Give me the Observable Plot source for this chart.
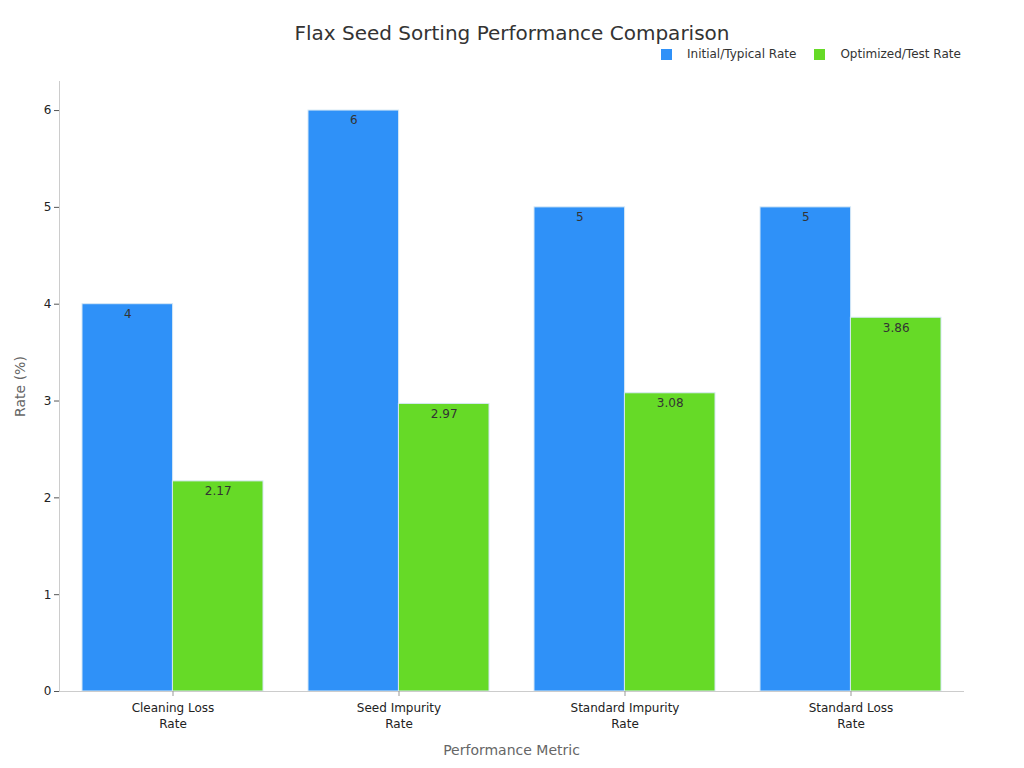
<!DOCTYPE html>
<html>
<head>
<meta charset="utf-8">
<script src="https://cdn.jsdelivr.net/npm/d3@7"></script>
<script src="https://cdn.jsdelivr.net/npm/@observablehq/plot@0.6"></script>
<style>
  html, body { margin: 0; padding: 0; background: #fff; }
  body { width: 1024px; height: 768px; position: relative; overflow: hidden; font-family: "DejaVu Sans", sans-serif; }
  #title { position: absolute; top: 21px; left: 0; width: 1024px; text-align: center; font-size: 20px; color: #333; }
  #legend { position: absolute; top: 47px; left: 661px; font-size: 12px; color: #333; display: flex; align-items: center; }
  .sw { display: inline-block; width: 11px; height: 11px; margin-right: 15px; }
  .item { display: flex; align-items: center; margin-right: 18px; }
  #chart { position: absolute; top: 0; left: 0; }
</style>
</head>
<body>
<div id="chart"></div>
<div id="title">Flax Seed Sorting Performance Comparison</div>
<div id="legend"></div>
<script>
const categories = ["Cleaning Loss Rate", "Seed Impurity Rate", "Standard Impurity Rate", "Standard Loss Rate"];
const tickLabels = ["Cleaning Loss\nRate", "Seed Impurity\nRate", "Standard Impurity\nRate", "Standard Loss\nRate"];
const series = ["Initial/Typical Rate", "Optimized/Test Rate"];
const colors = ["#2f91f8", "#66da27"];
const initialValues = [4, 6, 5, 5];
const optimizedValues = [2.17, 2.97, 3.08, 3.86];
const yTicks = [0, 1, 2, 3, 4, 5, 6];

const initialData = categories.map((c, i) => ({category: c, series: series[0], value: initialValues[i]}));
const optimizedData = categories.map((c, i) => ({category: c, series: series[1], value: optimizedValues[i]}));

const legend = document.getElementById("legend");
series.forEach((s, i) => {
  const it = document.createElement("div");
  it.className = "item";
  it.innerHTML = `<span class="sw" style="background:${colors[i]}"></span><span>${s}</span>`;
  legend.appendChild(it);
});

const W = 1024, H = 768, ML = 59, MR = 61, MT = 81, MB = 77;
const padIn = 0.2, padOut = 0.1;
const step = (W - ML - MR) / (categories.length - padIn + 2 * padOut);
const half = step * (1 - padIn) / 2;

const plot = Plot.plot({
  width: W,
  height: H,
  marginTop: MT,
  marginBottom: MB,
  marginLeft: ML,
  marginRight: MR,
  style: {fontFamily: "DejaVu Sans, sans-serif", fontSize: "12px", color: "#222"},
  x: {domain: categories, paddingInner: padIn, paddingOuter: padOut},
  y: {domain: [0, 6.3]},
  color: {domain: series, range: colors},
  marks: [
    Plot.barY(initialData, {x: "category", y: "value", fill: "series", stroke: "#d6e8f5", strokeWidth: 1, insetRight: half}),
    Plot.barY(optimizedData, {x: "category", y: "value", fill: "series", stroke: "#d6e8f5", strokeWidth: 1, insetLeft: half}),
    Plot.text(initialData, {x: "category", y: "value", text: d => String(d.value), dx: -half / 2, dy: 10, fill: "#333", fontSize: 12}),
    Plot.text(optimizedData, {x: "category", y: "value", text: d => String(d.value), dx: half / 2, dy: 10, fill: "#333", fontSize: 12}),
    Plot.frame({anchor: "left", stroke: "#ccc"}),
    Plot.frame({anchor: "bottom", stroke: "#ccc"}),
    Plot.axisY({ticks: yTicks, tickFormat: d => String(d), tickSize: 5, tickPadding: 3, stroke: "#555", label: "Rate (%)", labelAnchor: "center", labelArrow: "none", labelOffset: 44, fontSize: 12}),
    Plot.axisX({anchor: "bottom", tickSize: 5, stroke: "#999", tickPadding: 4, tickFormat: d => tickLabels[categories.indexOf(d)], label: "Performance Metric", labelAnchor: "center", labelArrow: "none", labelOffset: 63, lineHeight: 1.35})
  ]
});
document.getElementById("chart").appendChild(plot);
plot.querySelectorAll("g[aria-label='y-axis label'] text, g[aria-label='x-axis label'] text").forEach(t => {
  t.setAttribute("fill", "#666");
  t.style.fontSize = "14px";
});
</script>
</body>
</html>
